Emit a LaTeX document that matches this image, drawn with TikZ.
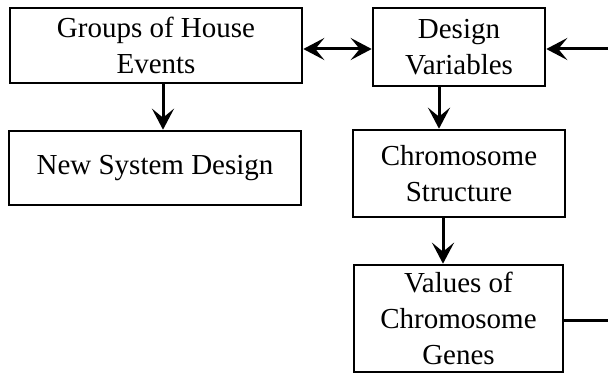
\documentclass[tikz,border=0pt]{standalone}
\usepackage{fontspec}
\setmainfont{Liberation Serif}
\usetikzlibrary{arrows.meta}
\begin{document}
\begin{tikzpicture}[x=1pt,y=-1pt,
    box/.style={draw, line width=2.6pt, align=center, inner sep=0pt,
        font=\fontsize{29}{36}\selectfont},
    arr/.style={line width=3pt, -{Stealth[length=21pt,width=22pt,inset=9pt]}}
]
    \useasboundingbox (0,0) rectangle (608,374);
    \node[box, minimum width=292pt, minimum height=75pt] (groups) at (156,45.5)
        {Groups of House\\Events};
    \node[box, minimum width=292pt, minimum height=74pt] (newsys) at (155,168)
        {New System Design};
    \node[box, minimum width=172pt, minimum height=78pt] (design) at (459,47)
        {Design\\Variables};
    \node[box, minimum width=212pt, minimum height=87pt] (chromo) at (459,173.5)
        {Chromosome\\Structure};
    \node[box, minimum width=209pt, minimum height=107pt] (values) at (458.5,318.5)
        {Values of\\Chromosome\\Genes};
    \coordinate (fbin) at (608,49);
    \coordinate (fbout) at (608,320);

    \draw[arr] ([xshift=7pt]groups.south) -- ([xshift=7pt]groups.south |- newsys.north);
    \draw[arr, {Stealth[length=21pt,width=22pt,inset=9pt]}-{Stealth[length=21pt,width=22pt,inset=9pt]}]
        ([yshift=-3.5pt]groups.east) -- ([yshift=-3.5pt]groups.east -| design.west);
    \draw[arr] (fbin) -- (fbin -| design.east);
    \draw[arr] ([xshift=-20pt]design.south) -- ([xshift=-20pt]design.south |- chromo.north);
    \draw[arr] ([xshift=-16pt]chromo.south) -- ([xshift=-16pt]chromo.south |- values.north);
    \draw[line width=3pt] (fbout -| values.east) -- (fbout);
\end{tikzpicture}
\end{document}
